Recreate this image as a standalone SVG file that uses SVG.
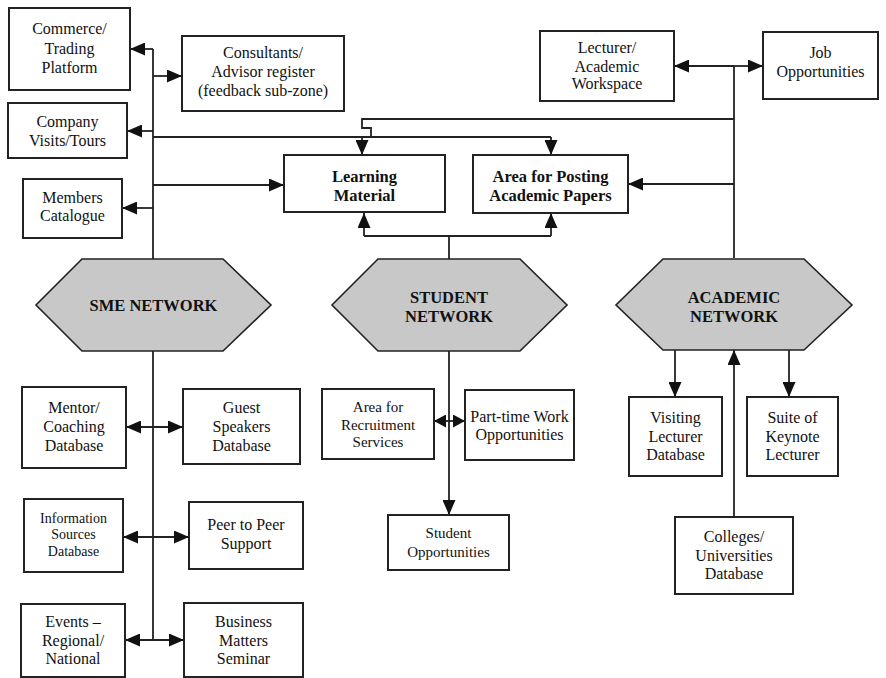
<svg xmlns="http://www.w3.org/2000/svg" width="886" height="678" viewBox="0 0 886 678">
<defs>
<marker id="ah" markerUnits="userSpaceOnUse" markerWidth="15" markerHeight="13" refX="15" refY="6.5" orient="auto-start-reverse">
<path d="M0,0 L15,6.5 L0,13 Z" fill="#111"/>
</marker>
<marker id="ahs" markerUnits="userSpaceOnUse" markerWidth="12" markerHeight="13" refX="12" refY="6.5" orient="auto-start-reverse">
<path d="M0,0 L12,6.5 L0,13 Z" fill="#111"/>
</marker>
</defs>
<style>
.box{fill:#fff;stroke:#222;stroke-width:2}
.hex{fill:#c8c8c8;stroke:#222;stroke-width:1.6}
.t{font-family:"Liberation Serif","DejaVu Serif",serif;font-size:16px;fill:#111;text-anchor:middle}
.b{font-weight:bold;font-size:16.5px}
.s14{font-size:14px}
.s15{font-size:15px}
.ln{fill:none;stroke:#222;stroke-width:1.8}
.ar{marker-end:url(#ah)}
.ar2{marker-start:url(#ah);marker-end:url(#ah)}
.ar2s{marker-start:url(#ahs);marker-end:url(#ahs)}
</style>
<rect width="886" height="678" fill="#fff"/>

<g id="connectors">
<!-- SME top -->
<path class="ln" d="M153,259 V49"/>
<path class="ln ar" d="M153,49 H130"/>
<path class="ln ar" d="M153,76 H182"/>
<path class="ln ar" d="M153,131 H127"/>
<path class="ln" d="M153,137 H551"/>
<path class="ln ar" d="M551,137 V155"/>
<path class="ln ar" d="M362,137 V155"/>
<path class="ln ar" d="M153,185 H284"/>
<path class="ln ar" d="M153,208 H122"/>
<!-- Academic top -->
<path class="ln" d="M734,258 V66"/>
<path class="ln ar" d="M734,66 H674"/>
<path class="ln ar" d="M734,66 H763"/>
<path class="ln" d="M734,119 H362 V128 H371 V137"/>
<path class="ln ar" d="M734,184 H628"/>
<!-- Student top -->
<path class="ln" d="M449,259 V236 M364,236 H551"/>
<path class="ln ar" d="M364,236 V213"/>
<path class="ln ar" d="M551,236 V213"/>
<!-- SME bottom -->
<path class="ln" d="M153,351 V640"/>
<path class="ln ar2" d="M126,427 H183"/>
<path class="ln ar2" d="M123,537 H189"/>
<path class="ln ar2" d="M125,640 H184"/>
<!-- Student bottom -->
<path class="ln ar" d="M449,351 V515"/>
<path class="ln ar2s" d="M434,421 H465"/>
<!-- Academic bottom -->
<path class="ln ar" d="M675,350 V397"/>
<path class="ln ar" d="M789,350 V397"/>
<path class="ln ar" d="M734,517 V350"/>
</g>

<g id="commerce"><rect class="box" x="9" y="8" width="121" height="82"/>
<text class="t" x="69.5" y="34">Commerce/</text><text class="t" x="69.5" y="54">Trading</text><text class="t" x="69.5" y="73">Platform</text></g>

<g id="consultants"><rect class="box" x="182" y="36" width="162" height="75"/>
<text class="t" x="263" y="58">Consultants/</text><text class="t" x="263" y="77">Advisor register</text><text class="t" x="263" y="96">(feedback sub-zone)</text></g>

<g id="company"><rect class="box" x="8" y="103" width="119" height="55"/>
<text class="t" x="67.5" y="127">Company</text><text class="t" x="67.5" y="146">Visits/Tours</text></g>

<g id="members"><rect class="box" x="23" y="179" width="99" height="59"/>
<text class="t" x="72.5" y="203">Members</text><text class="t" x="72.5" y="221">Catalogue</text></g>

<g id="learning"><rect class="box" x="284" y="155" width="161" height="57"/>
<text class="t b" x="364.5" y="182">Learning</text><text class="t b" x="364.5" y="201">Material</text></g>

<g id="posting"><rect class="box" x="473" y="155" width="155" height="58"/>
<text class="t b" x="550.5" y="182">Area for Posting</text><text class="t b" x="550.5" y="201">Academic Papers</text></g>

<g id="lecturer"><rect class="box" x="540" y="31" width="134" height="70"/>
<text class="t" x="607" y="53">Lecturer/</text><text class="t" x="607" y="72">Academic</text><text class="t" x="607" y="89">Workspace</text></g>

<g id="job"><rect class="box" x="763" y="32" width="115" height="67"/>
<text class="t" x="820.5" y="58">Job</text><text class="t" x="820.5" y="77">Opportunities</text></g>

<g id="sme"><polygon class="hex" points="82,259 223,259 271,305 223,351 82,351 36,305"/>
<text class="t b" x="153.5" y="311">SME NETWORK</text></g>

<g id="student"><polygon class="hex" points="378,259 520,259 567,305 520,351 378,351 332,305"/>
<text class="t b" x="449" y="303">STUDENT</text><text class="t b" x="449" y="322">NETWORK</text></g>

<g id="academic"><polygon class="hex" points="663,259 804,259 852,305 804,350 663,350 616,305"/>
<text class="t b" x="734" y="303">ACADEMIC</text><text class="t b" x="734" y="322">NETWORK</text></g>

<g id="mentor"><rect class="box" x="22" y="387" width="104" height="81"/>
<text class="t" x="74" y="413">Mentor/</text><text class="t" x="74" y="432">Coaching</text><text class="t" x="74" y="451">Database</text></g>

<g id="guest"><rect class="box" x="183" y="389" width="117" height="75"/>
<text class="t" x="241.5" y="413">Guest</text><text class="t" x="241.5" y="432">Speakers</text><text class="t" x="241.5" y="451">Database</text></g>

<g id="information"><rect class="box" x="24" y="499" width="99" height="73"/>
<text class="t s14" x="73.5" y="523">Information</text><text class="t s14" x="73.5" y="539">Sources</text><text class="t s14" x="73.5" y="556">Database</text></g>

<g id="peer"><rect class="box" x="189" y="502" width="114" height="67"/>
<text class="t" x="246" y="530">Peer to Peer</text><text class="t" x="246" y="549">Support</text></g>

<g id="events"><rect class="box" x="21" y="604" width="104" height="73"/>
<text class="t" x="73" y="627">Events –</text><text class="t" x="73" y="646">Regional/</text><text class="t" x="73" y="664">National</text></g>

<g id="business"><rect class="box" x="184" y="603" width="119" height="74"/>
<text class="t" x="243.5" y="627">Business</text><text class="t" x="243.5" y="646">Matters</text><text class="t" x="243.5" y="664">Seminar</text></g>

<g id="recruitment"><rect class="box" x="322" y="389" width="112" height="70"/>
<text class="t s15" x="378" y="412">Area for</text><text class="t s15" x="378" y="430">Recruitment</text><text class="t s15" x="378" y="447">Services</text></g>

<g id="parttime"><rect class="box" x="465" y="390" width="109" height="70"/>
<text class="t" x="519.5" y="422">Part-time Work</text><text class="t" x="519.5" y="440">Opportunities</text></g>

<g id="studentopp"><rect class="box" x="388" y="515" width="121" height="55"/>
<text class="t s15" x="448.5" y="538">Student</text><text class="t s15" x="448.5" y="557">Opportunities</text></g>

<g id="visiting"><rect class="box" x="629" y="397" width="93" height="79"/>
<text class="t" x="675.5" y="423">Visiting</text><text class="t" x="675.5" y="442">Lecturer</text><text class="t" x="675.5" y="460">Database</text></g>

<g id="suite"><rect class="box" x="747" y="397" width="91" height="79"/>
<text class="t" x="792.5" y="423">Suite of</text><text class="t" x="792.5" y="442">Keynote</text><text class="t" x="792.5" y="460">Lecturer</text></g>

<g id="colleges"><rect class="box" x="675" y="517" width="118" height="77"/>
<text class="t" x="734" y="542">Colleges/</text><text class="t" x="734" y="561">Universities</text><text class="t" x="734" y="579">Database</text></g>
</svg>
